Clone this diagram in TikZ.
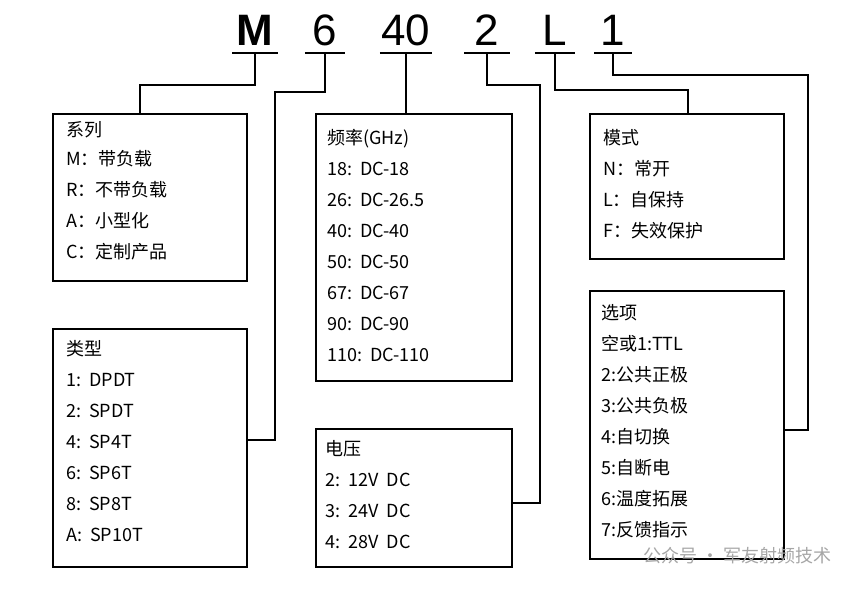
\documentclass[tikz,border=0pt]{standalone}
\usepackage{fontspec}
\setmainfont{Noto Sans CJK SC}
\newfontfamily\hdfont{Liberation Sans}
\usetikzlibrary{positioning}

\begin{document}
\begin{tikzpicture}[x=1pt, y=-1pt,
  box/.style={draw, line width=2.2pt, anchor=north west, inner sep=0pt},
  txt/.style={anchor=north west, align=left, inner sep=0pt, font=\fontsize{18}{31}\selectfont},
  head/.style={anchor=south, inner sep=0pt, font=\hdfont\fontsize{44}{44}\selectfont},
  wire/.style={line width=2.2pt},
  uline/.style={line width=2.2pt}]
  \useasboundingbox (0,0) rectangle (861,592);

  % code letters
  \node[head, font=\hdfont\bfseries\fontsize{44}{44}\selectfont, minimum width=45pt] (m) at (255,46) {M};
  \node[head, minimum width=40pt] (six) at (325,46) {6};
  \node[head, minimum width=52pt] (forty) at (406,46) {40};
  \node[head, minimum width=45pt] (two) at (487,46) {2};
  \node[head, minimum width=40pt] (el) at (555,46) {L};
  \node[head, minimum width=37pt] (one) at (613,46) {1};
  \foreach \c in {m,six,forty,two,el,one}
    \draw[uline] ([yshift=-7pt]\c.south west) -- ([yshift=-7pt]\c.south east);

  % boxes
  \node[box, minimum width=194pt, minimum height=167pt] (series) at (52,113) {};
  \node[box, minimum width=194pt, minimum height=238pt] (type) at (52,328) {};
  \node[box, minimum width=196pt, minimum height=267pt] (freq) at (315,113) {};
  \node[box, minimum width=196pt, minimum height=138pt] (volt) at (315,428) {};
  \node[box, minimum width=194pt, minimum height=145pt] (mode) at (589,113) {};
  \node[box, minimum width=194pt, minimum height=268pt] (opt) at (589,290) {};

  \node[txt] (seriest) at ([shift={(14,8)}]series.north west)
    {系列\\[-2pt]M：带负载\\R：不带负载\\A：小型化\\C：定制产品};
  \node[txt] (typet) at ([shift={(14,12)}]type.north west)
    {类型\\1:\ \ DPDT\\2:\ \ SPDT\\4:\ \ SP4T\\6:\ \ SP6T\\8:\ \ SP8T\\A:\ \ SP10T};
  \node[txt] (freqt) at ([shift={(12,16)}]freq.north west)
    {频率(GHz)\\18:\ \ DC-18\\26:\ \ DC-26.5\\40:\ \ DC-40\\50:\ \ DC-50\\67:\ \ DC-67\\90:\ \ DC-90\\110:\ \ DC-110};
  \node[txt] (voltt) at ([shift={(10,12)}]volt.north west)
    {电压\\2:\ \ 12V\ \ DC\\3:\ \ 24V\ \ DC\\4:\ \ 28V\ \ DC};
  \node[txt] (modet) at ([shift={(14,16)}]mode.north west)
    {模式\\N：常开\\L：自保持\\F：失效保护};
  \node[txt] (optt) at ([shift={(12,14)}]opt.north west)
    {选项\\空或1:TTL\\2:公共正极\\3:公共负极\\4:自切换\\5:自断电\\6:温度拓展\\7:反馈指示};

  % connectors
  \draw[wire] ([yshift=-7pt]m.south) |- (140,85) -- (series.north -| 140,0);
  \draw[wire] ([yshift=-7pt]six.south) |- (275,92) |- (type.east |- 0,440);
  \draw[wire] ([yshift=-7pt]forty.south) -- (freq.north -| forty.south);
  \draw[wire] ([yshift=-7pt]two.south) |- (540,85) |- (volt.east |- 0,503);
  \draw[wire] ([yshift=-7pt]el.south) |- (688,90) -- (mode.north -| 688,0);
  \draw[wire] ([yshift=-7pt]one.south) |- (808,75) |- (opt.east |- 0,430);

  % watermark
  \node[anchor=east, text=black!35, font=\fontsize{18}{18}\selectfont] (mark) at (835,556) {公众号 · 军友射频技术};
\end{tikzpicture}
\end{document}
